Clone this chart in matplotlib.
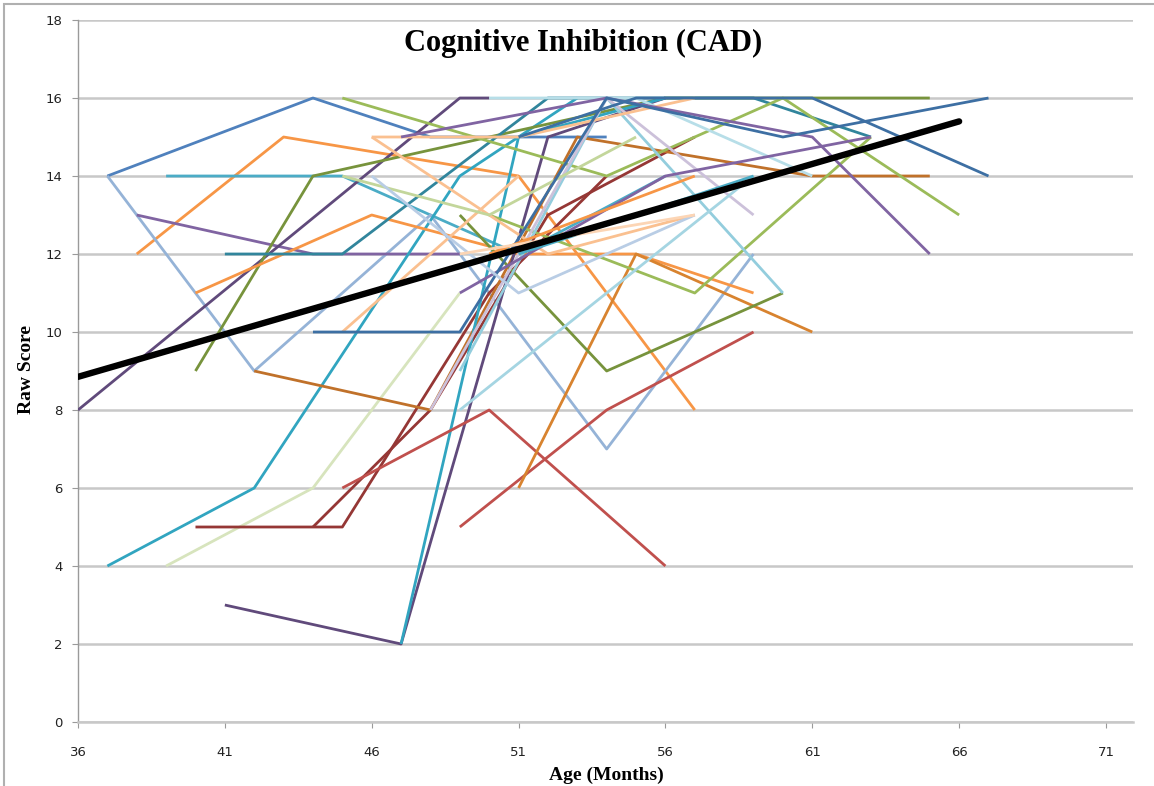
import matplotlib
matplotlib.use("Agg")
import matplotlib.pyplot as plt
from matplotlib.patches import Rectangle

title = "Cognitive Inhibition (CAD)"
x_label = "Age (Months)"
y_label = "Raw Score"
x_ticks = [36, 41, 46, 51, 56, 61, 66, 71]
y_ticks = [0, 2, 4, 6, 8, 10, 12, 14, 16, 18]

subject_ages = [
    [37, 44, 48, 54],
    [38, 43, 51, 57],
    [39, 45, 51, 56],
    [37, 42, 48, 54, 59],
    [38, 44, 49],
    [36, 49, 50],
    [37, 42, 49, 53],
    [39, 44, 49],
    [40, 45, 50, 54],
    [44, 48, 52, 57],
    [40, 44, 56, 65],
    [40, 46, 51, 55, 59],
    [41, 45, 52, 59, 63],
    [42, 48, 53, 61, 65],
    [41, 47, 52, 56],
    [47, 51, 56],
    [45, 50, 56],
    [49, 54, 59],
    [51, 55, 61],
    [45, 54, 60, 66],
    [49, 54, 60],
    [50, 57, 63],
    [50, 55, 61],
    [49, 54, 60],
    [48, 54, 59],
    [49, 59],
    [46, 51, 57],
    [46, 52, 57],
    [45, 51],
    [45, 50, 55],
    [47, 54, 61, 65],
    [49, 56, 63],
    [44, 49, 54, 60, 67],
    [51, 55, 61, 67],
    [51, 59],
    [50, 57],
    [46, 51, 57],
    [49, 57],
]
subject_scores = [
    [14, 16, 15, 15],
    [12, 15, 14, 8],
    [14, 14, 12, 14],
    [14, 9, 13, 7, 12],
    [13, 12, 12],
    [8, 16, 16],
    [4, 6, 14, 16],
    [4, 6, 11],
    [5, 5, 11, 14],
    [5, 8, 13, 15],
    [9, 14, 16, 16],
    [11, 13, 12, 12, 11],
    [12, 12, 16, 16, 15],
    [9, 8, 15, 14, 14],
    [3, 2, 15, 16],
    [2, 15, 16],
    [6, 8, 4],
    [5, 8, 10],
    [6, 12, 10],
    [16, 14, 16, 13],
    [13, 9, 11],
    [13, 11, 15],
    [16, 16, 14],
    [9, 16, 11],
    [8, 16, 13],
    [8, 14],
    [15, 15, 16],
    [15, 12, 13],
    [10, 14],
    [14, 13, 15],
    [15, 16, 15, 12],
    [11, 14, 15],
    [10, 10, 16, 15, 16],
    [15, 16, 16, 14],
    [12, 14],
    [12, 14],
    [14, 11, 13],
    [12, 13],
]
subject_colors = [
    "#4F81BD", "#F79646", "#4BACC6", "#95B3D7", "#8064A2", "#604A7B",
    "#31A5C0", "#D7E4BD", "#953735", "#953735", "#77933C", "#F79646",
    "#31859C", "#C0712A", "#604A7B", "#31A5C0", "#C0504D", "#C0504D",
    "#D8832F", "#9BBB59", "#77933C", "#9BBB59", "#B7DEE8", "#93CDDD",
    "#CCC1DA", "#A5D5E2", "#FAC090", "#FAC090", "#FAC090", "#C3D69B",
    "#8064A2", "#8064A2", "#3D6FA3", "#3D6FA3", "#4BACC6", "#F79646",
    "#B9CDE5", "#FCD5B5",
]

trend_x = [36, 66]
trend_y = [8.85, 15.4]

fig = plt.figure(figsize=(11.54, 7.86), dpi=100)
fig.patch.set_facecolor("white")
ax = fig.add_axes([78 / 1154, 64 / 786, (1133 - 78) / 1154, (722 - 20) / 786])

for ages, scores, col in zip(subject_ages, subject_scores, subject_colors):
    ax.plot(ages, scores, color=col, lw=2.0, solid_capstyle="butt", zorder=3)

ax.plot(trend_x, trend_y, color="black", lw=4.6, solid_capstyle="round", zorder=5)

ax.set_xlim(36, 71.92)
ax.set_ylim(0, 18)
ax.set_xticks(x_ticks)
ax.set_yticks(y_ticks)
ax.yaxis.grid(True, color="#C8C8C8", lw=1.8, zorder=1)
ax.set_axisbelow(True)
for s in ["top", "right"]:
    ax.spines[s].set_visible(False)
ax.spines["left"].set_color("#9A9A9A")
ax.spines["bottom"].set_color("#C8C8C8")
ax.spines["bottom"].set_linewidth(1.8)
ax.spines["left"].set_linewidth(1.0)

tick_font = ["Liberation Sans Narrow", "DejaVu Sans"]
ax.tick_params(axis="both", direction="out", length=4, color="#9A9A9A", labelsize=9.5, pad=7)
for lab in ax.get_xticklabels() + ax.get_yticklabels():
    lab.set_family(tick_font)
    lab.set_color("#222222")
ax.tick_params(axis="x", pad=13)

serif = ["Liberation Serif", "DejaVu Serif"]
ax.text((583 - 78) / 1055, 1 - (43 - 20) / 702, title, transform=ax.transAxes, ha="center", va="center",
        fontsize=22, fontweight="bold", family=serif)
fig.text(606 / 1154, 1 - 775 / 786, x_label, ha="center", va="center",
         fontsize=14, fontweight="bold", family=serif)
fig.text(27 / 1154, 1 - 370 / 786, y_label, ha="center", va="center", rotation=90,
         fontsize=14, fontweight="bold", family=serif)

fig.patches.append(Rectangle((4 / 1154, -0.01), 1.2, 1 - 4 / 786 + 0.01, transform=fig.transFigure,
                             fill=False, edgecolor="#B0B0B0", lw=1.5))

fig.savefig("out.png", dpi=100)
